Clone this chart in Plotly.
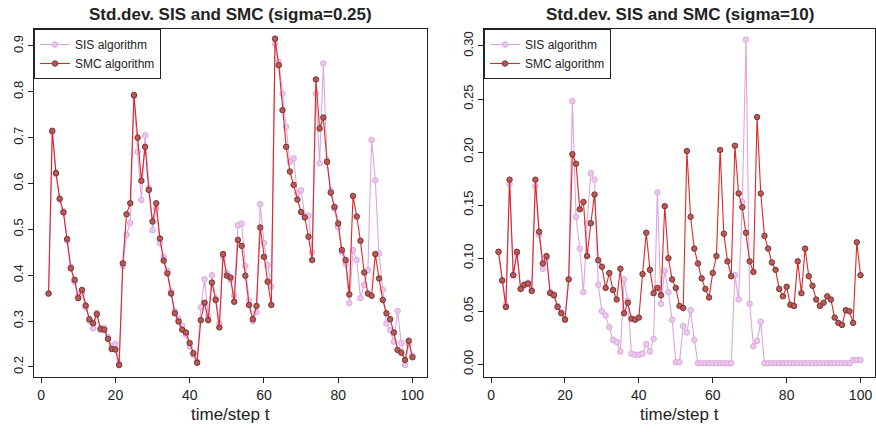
import plotly.graph_objects as go

# ---------------- data ----------------
t = list(range(2, 101))

smc_025 = [0.360, 0.715, 0.623, 0.567, 0.537, 0.479, 0.415, 0.390, 0.350, 0.368,
           0.334, 0.304, 0.295, 0.315, 0.283, 0.281, 0.261, 0.239, 0.238, 0.204,
           0.426, 0.533, 0.557, 0.793, 0.700, 0.606, 0.680, 0.586, 0.517, 0.557,
           0.480, 0.432, 0.404, 0.360, 0.317, 0.299, 0.281, 0.275, 0.252, 0.230,
           0.209, 0.302, 0.340, 0.302, 0.384, 0.346, 0.286, 0.446, 0.399, 0.395,
           0.342, 0.477, 0.464, 0.399, 0.335, 0.304, 0.333, 0.504, 0.440, 0.386,
           0.335, 0.916, 0.858, 0.760, 0.680, 0.626, 0.597, 0.565, 0.538, 0.526,
           0.484, 0.433, 0.827, 0.720, 0.744, 0.647, 0.580, 0.549, 0.513, 0.455,
           0.433, 0.358, 0.573, 0.528, 0.475, 0.406, 0.360, 0.355, 0.446, 0.393,
           0.346, 0.317, 0.304, 0.275, 0.237, 0.231, 0.215, 0.257, 0.221]

sis_025 = [0.360, 0.712, 0.620, 0.565, 0.540, 0.475, 0.418, 0.385, 0.355, 0.362,
           0.330, 0.300, 0.284, 0.318, 0.280, 0.285, 0.265, 0.245, 0.250, 0.208,
           0.420, 0.488, 0.514, 0.790, 0.669, 0.564, 0.705, 0.590, 0.498, 0.546,
           0.470, 0.440, 0.410, 0.365, 0.322, 0.305, 0.290, 0.270, 0.245, 0.226,
           0.212, 0.330, 0.391, 0.310, 0.400, 0.350, 0.295, 0.440, 0.405, 0.390,
           0.355, 0.509, 0.513, 0.420, 0.345, 0.300, 0.320, 0.555, 0.470, 0.422,
           0.375, 0.905, 0.865, 0.796, 0.724, 0.647, 0.655, 0.578, 0.585, 0.530,
           0.530, 0.450, 0.796, 0.644, 0.862, 0.651, 0.585, 0.545, 0.505, 0.450,
           0.425, 0.339, 0.455, 0.433, 0.350, 0.379, 0.411, 0.695, 0.607, 0.447,
           0.368, 0.295, 0.280, 0.255, 0.322, 0.252, 0.204, 0.250, 0.225]

smc_10 = [0.106, 0.079, 0.054, 0.174, 0.084, 0.106, 0.071, 0.075, 0.076, 0.069,
          0.174, 0.125, 0.095, 0.102, 0.067, 0.065, 0.054, 0.048, 0.042, 0.080,
          0.198, 0.189, 0.146, 0.153, 0.102, 0.133, 0.160, 0.098, 0.092, 0.072,
          0.086, 0.070, 0.061, 0.090, 0.048, 0.058, 0.043, 0.042, 0.044, 0.085,
          0.124, 0.089, 0.067, 0.072, 0.065, 0.149, 0.100, 0.080, 0.072, 0.055,
          0.053, 0.201, 0.139, 0.109, 0.095, 0.081, 0.071, 0.063, 0.086, 0.102,
          0.202, 0.123, 0.097, 0.083, 0.206, 0.161, 0.148, 0.124, 0.097, 0.087,
          0.233, 0.161, 0.121, 0.109, 0.096, 0.089, 0.071, 0.064, 0.073, 0.056,
          0.055, 0.097, 0.067, 0.109, 0.083, 0.074, 0.061, 0.055, 0.058, 0.064,
          0.061, 0.044, 0.039, 0.037, 0.051, 0.050, 0.039, 0.115, 0.084]

sis_10 = [0.106, 0.079, 0.056, 0.170, 0.084, 0.104, 0.071, 0.074, 0.077, 0.070,
          0.168, 0.122, 0.090, 0.100, 0.068, 0.066, 0.055, 0.049, 0.043, 0.080,
          0.248, 0.139, 0.109, 0.068, 0.133, 0.180, 0.174, 0.075, 0.050, 0.046,
          0.035, 0.023, 0.021, 0.012, 0.080, 0.060, 0.010, 0.009, 0.009, 0.010,
          0.019, 0.012, 0.024, 0.162, 0.057, 0.088, 0.068, 0.042, 0.002, 0.002,
          0.036, 0.030, 0.051, 0.023, 0.001, 0.001, 0.001, 0.001, 0.001, 0.001,
          0.001, 0.001, 0.001, 0.001, 0.084, 0.061, 0.153, 0.306, 0.057, 0.017,
          0.022, 0.040, 0.001, 0.001, 0.001, 0.001, 0.001, 0.001, 0.001, 0.001,
          0.001, 0.001, 0.001, 0.001, 0.001, 0.001, 0.001, 0.001, 0.001, 0.001,
          0.001, 0.001, 0.001, 0.001, 0.001, 0.001, 0.004, 0.004, 0.004]

x_ticks = [0, 20, 40, 60, 80, 100]
y_ticks_025 = [0.2, 0.3, 0.4, 0.5, 0.6, 0.7, 0.8, 0.9]
y_ticks_10 = [0.00, 0.05, 0.10, 0.15, 0.20, 0.25, 0.30]
titles = ["Std.dev. SIS and SMC (sigma=0.25)", "Std.dev. SIS and SMC (sigma=10)"]
x_label = "time/step t"
names = ["SIS algorithm", "SMC algorithm"]

# ---------------- style ----------------
W, H = 876, 436
FONT = "Liberation Sans, Arial, sans-serif"
BFONT = "Liberation Sans, Arial, sans-serif"
PINK = "#dba6dd"
PINK_FILL = "#ecc8ee"
RED = "#e02626"
SMC_FILL = "#c65450"
SMC_EDGE = "#5a3434"

def px_x(p):
    return p / W

def px_y(p):
    return 1 - p / H

fig = go.Figure()

panels = [
    dict(xa="x", ya="y", sis=sis_025, smc=smc_025, lg="legend"),
    dict(xa="x2", ya="y2", sis=sis_10, smc=smc_10, lg="legend2"),
]
for p in panels:
    fig.add_trace(go.Scatter(
        x=t, y=p["sis"], mode="lines+markers", name=names[0],
        line=dict(color=PINK, width=1.1),
        marker=dict(symbol="circle", size=5.5, color=PINK_FILL, line=dict(color=PINK, width=1)),
        xaxis=p["xa"], yaxis=p["ya"], legend=p["lg"]))
    fig.add_trace(go.Scatter(
        x=t, y=p["smc"], mode="lines+markers", name=names[1],
        line=dict(color=RED, width=1.1),
        marker=dict(symbol="circle", size=5.5, color=SMC_FILL, line=dict(color=SMC_EDGE, width=0.9)),
        xaxis=p["xa"], yaxis=p["ya"], legend=p["lg"]))

common_axis = dict(showline=True, mirror=True, linecolor="#222", linewidth=1,
                   ticks="outside", ticklen=5, tickcolor="#222", tickwidth=1,
                   showgrid=False, zeroline=False,
                   tickfont=dict(family=FONT, size=14, color="#222"))

L_DOM = [px_x(34), px_x(427)]
R_DOM = [px_x(484), px_x(875)]
Y_DOM = [px_y(377), px_y(29)]

fig.update_layout(
    width=W, height=H, margin=dict(l=0, r=0, t=0, b=0),
    paper_bgcolor="white", plot_bgcolor="white",
    xaxis=dict(domain=L_DOM, range=[-1.92, 103.92], tickvals=x_ticks, anchor="y", **common_axis),
    yaxis=dict(domain=Y_DOM, range=[0.178, 0.937], tickvals=y_ticks_025, tickformat=".1f",
               tickangle=-90, anchor="x", **common_axis),
    xaxis2=dict(domain=R_DOM, range=[-1.92, 103.92], tickvals=x_ticks, anchor="y2", **common_axis),
    yaxis2=dict(domain=Y_DOM, range=[-0.012, 0.316], tickvals=y_ticks_10, tickformat=".2f",
                tickangle=-90, anchor="x2", **common_axis),
    legend=dict(x=px_x(34), y=px_y(29), xanchor="left", yanchor="top",
                bordercolor="#222", borderwidth=1, bgcolor="white",
                font=dict(family=BFONT, size=12, color="#222"), itemwidth=30, tracegroupgap=0),
    legend2=dict(x=px_x(484), y=px_y(29), xanchor="left", yanchor="top",
                 bordercolor="#222", borderwidth=1, bgcolor="white",
                 font=dict(family=BFONT, size=12, color="#222"), itemwidth=30, tracegroupgap=0),
    showlegend=True,
)
for ax in ("yaxis", "yaxis2"):
    fig.layout[ax].tickfont.size = 13

centers = [(L_DOM[0] + L_DOM[1]) / 2, (R_DOM[0] + R_DOM[1]) / 2]
for c, ttl in zip(centers, titles):
    fig.add_annotation(x=c, y=px_y(14), xref="paper", yref="paper", text="<b>" + ttl + "</b>",
                       showarrow=False, xanchor="center", yanchor="middle",
                       font=dict(family=BFONT, size=17, color="#222"))
    fig.add_annotation(x=c, y=px_y(414), xref="paper", yref="paper", text=x_label,
                       showarrow=False, xanchor="center", yanchor="middle",
                       font=dict(family=FONT, size=17, color="#222"))

fig.write_html("out.html")
